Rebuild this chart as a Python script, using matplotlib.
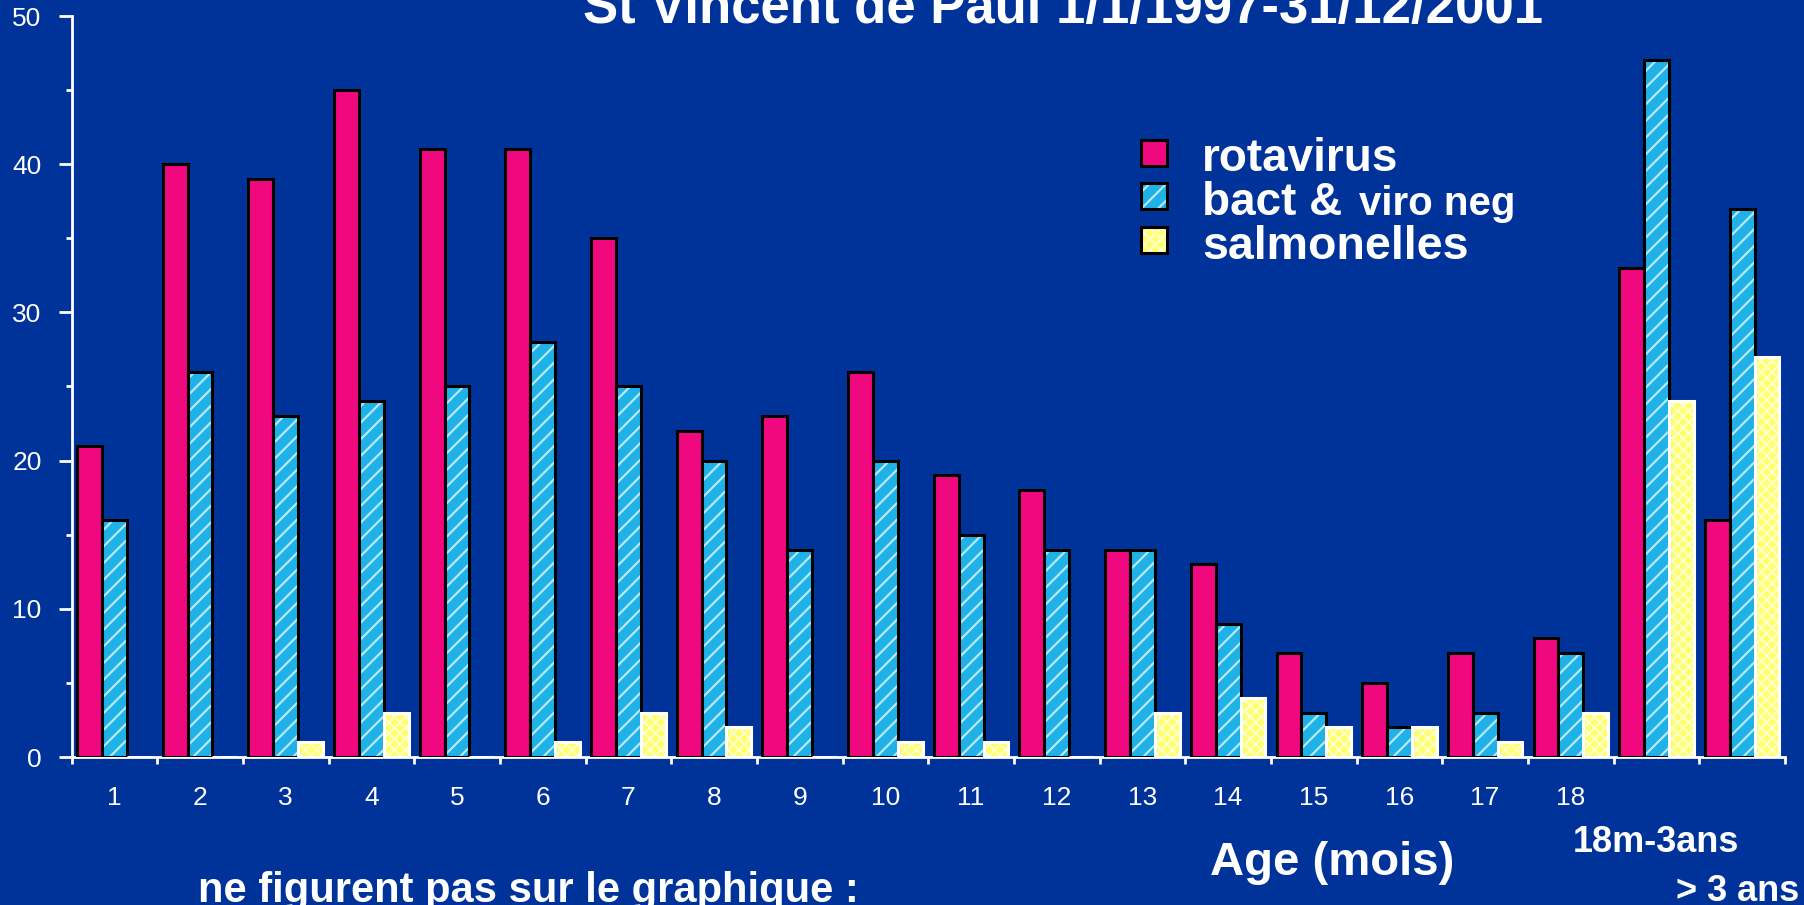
import matplotlib.pyplot as plt
import numpy as np
from matplotlib.patches import Rectangle

# Data (number of cases per age group)
categories = ['1', '2', '3', '4', '5', '6', '7', '8', '9', '10',
              '11', '12', '13', '14', '15', '16', '17', '18', '', '']
rotavirus = [21, 40, 39, 45, 41, 41, 35, 22, 23, 26, 19, 18, 14, 13, 7, 5, 7, 8, 33, 16]
bact_viro_neg = [16, 26, 23, 24, 25, 28, 25, 20, 14, 20, 15, 14, 14, 9, 3, 2, 3, 7, 47, 37]
salmonelles = [0, 0, 1, 3, 0, 1, 3, 2, 0, 1, 1, 0, 3, 4, 2, 2, 1, 3, 24, 27]
series_names = ['rotavirus', 'bact & ', 'salmonelles']

bg = '#003399'
pink = '#F0087F'
blue = '#1EB2E8'
yellow = '#FFFF66'

plt.rcParams['font.family'] = ['Liberation Sans', 'DejaVu Sans']
plt.rcParams['hatch.linewidth'] = 1.6

W, H = 1804, 905
fig = plt.figure(figsize=(W / 100, H / 100), dpi=100, facecolor=bg)
ax = fig.add_axes([71.5 / W, 1 - 757 / H, (1785 - 71.5) / W, (757 - 16) / H])
ax.set_facecolor(bg)

x = np.arange(len(categories)) + 0.5
w = 0.29

# pink bars
ax.bar(x - w, rotavirus, w, color=pink, edgecolor='black', linewidth=2.2, zorder=3)
# blue hatched bars: fill + light hatch, then black outline
ax.bar(x, bact_viro_neg, w, color=blue, edgecolor='#B8E8FA', hatch='//', linewidth=0, zorder=3)
ax.bar(x, bact_viro_neg, w, color='none', edgecolor='black', linewidth=2.2, zorder=4)
# yellow bars with white outline
ax.bar(x + w, salmonelles, w, color=yellow, edgecolor='#FFFFC8', hatch='xxx', linewidth=0, zorder=3)
ax.bar(x + w, salmonelles, w, color='none', edgecolor='white', linewidth=2.2, zorder=4)

ax.set_xlim(0, 20)
ax.set_ylim(0, 50)

for s in ['top', 'right']:
    ax.spines[s].set_visible(False)
for s in ['left', 'bottom']:
    ax.spines[s].set_color('white')
    ax.spines[s].set_linewidth(2)
    ax.spines[s].set_zorder(2)

ax.set_yticks(np.arange(0, 51, 10))
ax.set_yticks(np.arange(5, 50, 10), minor=True)
ax.tick_params(axis='y', which='major', colors='white', length=9.5, width=2, pad=12, labelsize=19)
ax.tick_params(axis='y', which='minor', colors='white', length=4.5, width=2)

ax.set_xticks(np.arange(0, 21))
ax.set_xticklabels([])
ax.set_xticks(x, minor=True)
ax.set_xticklabels(categories, minor=True)
ax.tick_params(axis='x', which='major', colors='white', length=5, width=2)
ax.tick_params(axis='x', which='minor', length=0, pad=21, labelsize=19, labelcolor='white')


def fx(px):
    return px / W


def fy(py):
    return 1 - py / H


# title (cut at the top, as in the slide)
fig.text(fx(1063), fy(23), 'St Vincent de Paul 1/1/1997-31/12/2001', color='white',
         fontsize=38, fontweight='bold', ha='center', va='baseline')

# legend drawn by hand
sq = 26
legend_rows = [(153, pink, None, 'black', None),
               (196, blue, '//', 'black', '#B8E8FA'),
               (240, yellow, 'xxx', 'black', '#FFFFC8')]
for yc, fc, hatch, ec, hc in legend_rows:
    if hatch:
        fig.add_artist(Rectangle((fx(1141), fy(yc + sq / 2)), sq / W, sq / H, transform=fig.transFigure,
                                 facecolor=fc, edgecolor=hc, hatch=hatch, linewidth=0))
        fig.add_artist(Rectangle((fx(1141), fy(yc + sq / 2)), sq / W, sq / H, transform=fig.transFigure,
                                 facecolor='none', edgecolor=ec, linewidth=2.2))
    else:
        fig.add_artist(Rectangle((fx(1141), fy(yc + sq / 2)), sq / W, sq / H, transform=fig.transFigure,
                                 facecolor=fc, edgecolor=ec, linewidth=2.2))

fig.text(fx(1202), fy(171), series_names[0], color='white', fontsize=33, fontweight='bold', va='baseline')
fig.text(fx(1202), fy(215), series_names[1], color='white', fontsize=33, fontweight='bold', va='baseline')
fig.text(fx(1359), fy(215), 'viro neg', color='white', fontsize=29, fontweight='bold', va='baseline')
fig.text(fx(1202), fy(259), series_names[2], color='white', fontsize=33.5, fontweight='bold', va='baseline')

# axis caption and extra category labels
fig.text(fx(1332), fy(875), 'Age (mois)', color='white', fontsize=34, fontweight='bold',
         ha='center', va='baseline')
fig.text(fx(1656), fy(852), '18m-3ans', color='white', fontsize=26, fontweight='bold',
         ha='center', va='baseline')
fig.text(fx(1676), fy(901), '> 3 ans', color='white', fontsize=26, fontweight='bold',
         ha='left', va='baseline')
fig.text(fx(198), fy(902), 'ne figurent pas sur le graphique :', color='white', fontsize=30,
         fontweight='bold', ha='left', va='baseline')

fig.savefig('out.png', dpi=100, facecolor=bg)
